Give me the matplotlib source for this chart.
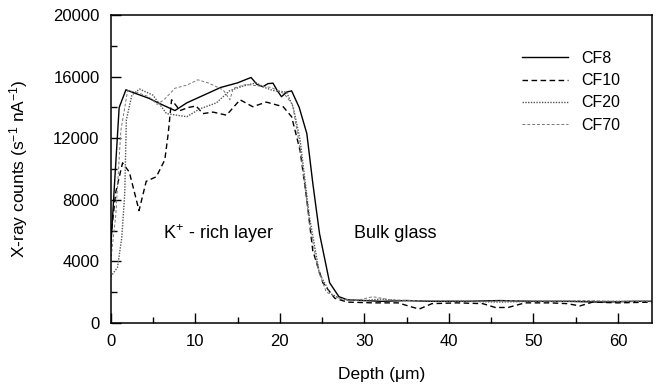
import matplotlib.pyplot as plt
from matplotlib.ticker import MultipleLocator

plt.rcParams['font.family'] = ['Liberation Sans', 'DejaVu Sans']
plt.rcParams['mathtext.default'] = 'regular'

# Depth (um) and counts, one pair of lists per sample
cf8_x = [0, 0.5, 1.0, 1.8, 3, 4.5, 6, 7.6, 9, 11, 13, 15, 16.6, 17.3, 18, 18.6, 19.2, 19.7, 20.2, 20.8, 21.4,
         22.3, 23.2, 23.9, 24.7, 25.9, 27, 28, 30, 32, 35, 38, 42, 46, 50, 54, 58, 62, 64]
cf8_y = [4800, 9500, 14000, 15150, 14900, 14600, 14200, 13800, 14300, 14800, 15300, 15600, 15950, 15500,
         15350, 15550, 15580, 15100, 14700, 15000, 15080, 14000, 12300, 9100, 5800, 2600, 1700, 1500, 1450,
         1400, 1450, 1400, 1400, 1450, 1400, 1400, 1350, 1400, 1400]

cf10_x = [0, 0.6, 1.4, 2.2, 2.8, 3.35, 4.2, 5.4, 6.4, 6.8, 7.2, 8.2, 9.2, 10.1, 10.9, 12.1, 13.7, 15.3, 16.8,
          18.4, 20.4, 21.4, 22.4, 23.2, 23.9, 25.1, 26.5, 28, 31, 34, 35.5, 36.5, 38, 41, 44, 45.5, 47, 49, 52,
          54, 55.5, 57, 60, 64]
cf10_y = [5500, 8500, 10400, 9800, 8500, 7300, 9200, 9500, 10600, 12300, 14500, 13800, 14000, 14100, 13600,
          13700, 13500, 14500, 14050, 14350, 14050, 13400, 11200, 8000, 4700, 2600, 1600, 1350, 1300, 1300,
          1050, 900, 1250, 1300, 1250, 1000, 1000, 1300, 1300, 1250, 1100, 1350, 1300, 1350]

cf20_x = [0, 0.8, 1.3, 1.66, 1.85, 2.5, 3.4, 5.0, 6.6, 9.0, 10.5, 12.5, 14.1, 15.7, 17.2, 18.2, 19.2, 20.8,
          21.6, 22.4, 23.5, 24.7, 26, 27.5, 30, 32, 34, 38, 42, 46, 50, 54, 58, 62, 64]
cf20_y = [3000, 3600, 5500, 8400, 13200, 14800, 15200, 14800, 13600, 13400, 13900, 14300, 15100, 15400, 15600,
          15300, 15100, 15000, 14000, 11900, 6900, 3200, 1900, 1500, 1450, 1550, 1450, 1400, 1400, 1350, 1400,
          1400, 1400, 1400, 1400]

cf70_x = [0, 0.6, 1.2, 2.0, 3.0, 4.5, 5.5, 6.3, 7.0, 7.6, 9.0, 10.3, 11.5, 13.3, 14.1, 14.5, 16, 17.5, 19,
          20.5, 21.5, 22.5, 23.5, 24.5, 25.5, 27, 29, 31, 33, 36, 40, 44, 48, 52, 56, 60, 64]
cf70_y = [4000, 7000, 12500, 15100, 15000, 14700, 14200, 14500, 14900, 15250, 15450, 15800, 15600, 15150,
          14500, 15250, 15500, 15400, 15300, 14900, 14200, 11000, 6500, 3500, 2000, 1600, 1450, 1700, 1500,
          1450, 1450, 1400, 1450, 1400, 1450, 1400, 1400]

fig = plt.figure(figsize=(6.59, 3.89), dpi=100)
ax = fig.add_axes([0.168, 0.170, 0.821, 0.791])

ax.plot(cf8_x, cf8_y, color='black', lw=1.0, label='CF8')
ax.plot(cf10_x, cf10_y, color='black', lw=1.0, linestyle=(0, (4, 2.5)), label='CF10')
ax.plot(cf20_x, cf20_y, color='#555555', lw=1.0, linestyle=(0, (1, 1)), label='CF20')
ax.plot(cf70_x, cf70_y, color='#777777', lw=0.7, linestyle=(0, (3, 2)), label='CF70')

ax.set_xlim(0, 64)
ax.set_ylim(0, 20000)
ax.xaxis.set_major_locator(MultipleLocator(10))
ax.xaxis.set_minor_locator(MultipleLocator(5))
ax.yaxis.set_major_locator(MultipleLocator(4000))
ax.yaxis.set_minor_locator(MultipleLocator(2000))
ax.tick_params(which='both', direction='in', labelsize=12, color='black')
ax.tick_params(which='major', length=7, width=1)
ax.tick_params(which='minor', length=4, width=1)
ax.tick_params(axis='x', pad=8)
ax.tick_params(axis='y', pad=8)
for s in ax.spines.values():
    s.set_linewidth(1.1)

ax.set_xlabel('Depth (\u03bcm)', fontsize=12.5, labelpad=13)
ax.set_ylabel('X-ray counts (s$^{-1}$ nA$^{-1}$)', fontsize=12.5, labelpad=17)

ax.text(12.7, 5800, 'K$^{+}$ - rich layer', fontsize=13, ha='center', va='center')
ax.text(33.7, 5800, 'Bulk glass', fontsize=13, ha='center', va='center')

ax.legend(loc='upper right', bbox_to_anchor=(0.968, 0.93), frameon=False, fontsize=11.5,
          handlelength=2.9, handletextpad=0.8, labelspacing=0.45)

fig.savefig('out.png', dpi=100)
